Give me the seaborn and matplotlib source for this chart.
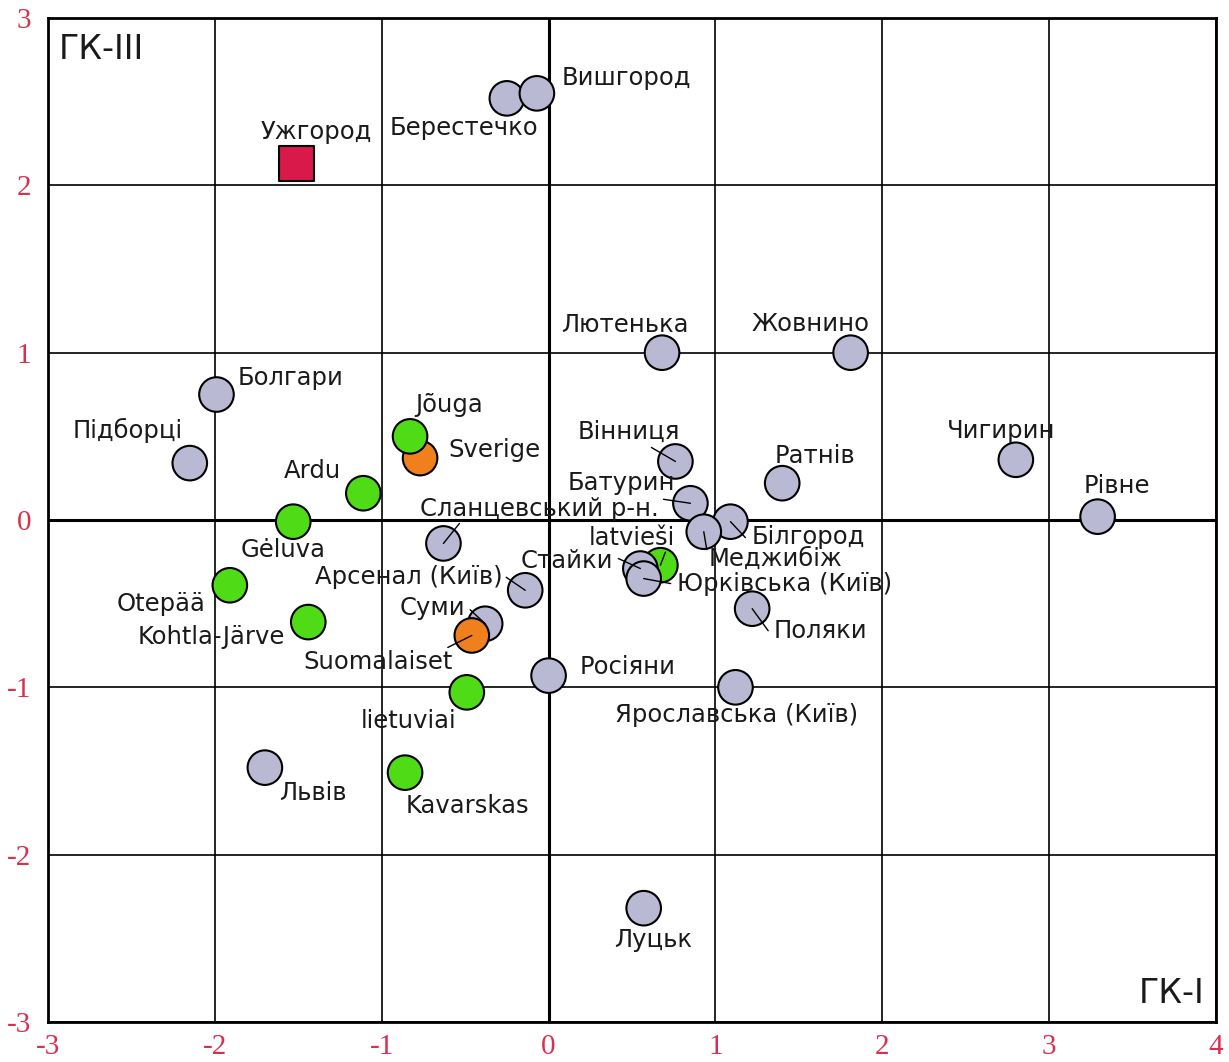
import pandas as pd
import matplotlib
matplotlib.use("Agg")
import matplotlib.pyplot as plt
import seaborn as sns


# Data, in drawing order
names = [
    "Ужгород", "Берестечко", "Вишгород", "Лютенька", "Жовнино", "Болгари",
    "Підборці", "Sverige", "Jõuga", "Ardu", "Gėluva", "Otepää",
    "Kohtla-Järve", "Сланцевський р-н.", "Арсенал (Київ)", "Суми",
    "Suomalaiset", "lietuviai", "Kavarskas", "Львів", "Росіяни", "Луцьк",
    "Вінниця", "Батурин", "Білгород", "Меджибіж", "latvieši", "Стайки",
    "Юрківська (Київ)", "Ратнів", "Поляки", "Ярославська (Київ)",
    "Чигирин", "Рівне",
]
gk1 = [
    -1.51, -0.25, -0.07, 0.68, 1.81, -1.99,
    -2.15, -0.77, -0.83, -1.11, -1.53, -1.91,
    -1.44, -0.63, -0.14, -0.38,
    -0.46, -0.49, -0.86, -1.70, 0.00, 0.57,
    0.76, 0.85, 1.09, 0.93, 0.67, 0.55,
    0.57, 1.40, 1.22, 1.12,
    2.80, 3.29,
]
gk3 = [
    2.13, 2.52, 2.55, 1.00, 1.00, 0.75,
    0.34, 0.37, 0.50, 0.16, -0.01, -0.39,
    -0.61, -0.14, -0.42, -0.62,
    -0.69, -1.03, -1.51, -1.48, -0.93, -2.32,
    0.35, 0.10, -0.01, -0.07, -0.27, -0.29,
    -0.35, 0.22, -0.53, -1.00,
    0.36, 0.02,
]
group = [
    "uzh", "ua", "ua", "ua", "ua", "ua",
    "ua", "scand", "balt", "balt", "balt", "balt",
    "balt", "ua", "ua", "ua",
    "scand", "balt", "balt", "ua", "ua", "ua",
    "ua", "ua", "ua", "ua", "balt", "ua",
    "ua", "ua", "ua", "ua",
    "ua", "ua",
]
x_ticks = [-3, -2, -1, 0, 1, 2, 3, 4]
y_ticks = [-3, -2, -1, 0, 1, 2, 3]

df = pd.DataFrame({"name": names, "gk1": gk1, "gk3": gk3, "group": group})
df["shape"] = ["square" if g == "uzh" else "circle" for g in group]

# label offsets (pixels, label centre relative to point)
label_offsets = {
    "Ужгород": (20, 32), "Берестечко": (-43, -30), "Вишгород": (89, 15),
    "Лютенька": (-37, 28), "Жовнино": (-40, 29), "Болгари": (74, 17),
    "Підборці": (-62, 33), "Jõuga": (39, 31), "Sverige": (74, 8),
    "Ardu": (-51, 22), "Gėluva": (-10, -28), "Otepää": (-69, -19),
    "Kohtla-Järve": (-97, -15), "Сланцевський р-н.": (96, 34),
    "Арсенал (Київ)": (-116, 13), "Суми": (-53, 16),
    "Suomalaiset": (-94, -27), "lietuviai": (-58, -29),
    "Kavarskas": (62, -33), "Львів": (48, -25), "Росіяни": (79, 9),
    "Луцьк": (9, -32), "Вінниця": (-47, 30), "Батурин": (-69, 20),
    "Меджибіж": (72, -27), "Білгород": (78, -15), "latvieši": (-29, 27),
    "Стайки": (-73, 8), "Юрківська (Київ)": (141, -5), "Ратнів": (33, 27),
    "Поляки": (68, -22), "Ярославська (Київ)": (1, -28),
    "Чигирин": (-15, 29), "Рівне": (19, 31),
}
# short leader lines: outer end (pixels from the point)
leader_ends = {
    "Вінниця": (-24, 14), "Батурин": (-27, 4), "Сланцевський р-н.": (16, 20),
    "Арсенал (Київ)": (-19, 13), "Суми": (-15, 14), "Suomalaiset": (-24, -12),
    "Стайки": (-22, 10), "latvieši": (5, 13), "Юрківська (Київ)": (27, -5),
    "Меджибіж": (3, -18), "Білгород": (15, -16), "Поляки": (16, -22),
}

palette = {"ua": "#b9b9d3", "balt": "#4fdc16", "scand": "#f0801e", "uzh": "#d8194a"}
tick_color = "#d9304f"

sns.set_style("white")
plt.rcParams["font.family"] = ["DejaVu Sans"]

fig = plt.figure(figsize=(12.29, 10.62), dpi=100)
ax = fig.add_axes([0.039, 0.0377, 0.9505, 0.9453])

ax.set_xlim(-3, 4)
ax.set_ylim(-3, 3)
ax.set_xticks(x_ticks)
ax.set_yticks(y_ticks)
ax.grid(True, color="black", lw=1.2)
ax.axhline(0, color="black", lw=2.2, zorder=1)
ax.axvline(0, color="black", lw=2.2, zorder=1)
ax.set_axisbelow(True)

sns.scatterplot(
    data=df, x="gk1", y="gk3",
    hue="group", palette=palette,
    style="shape", markers={"circle": "o", "square": "s"},
    s=620, edgecolor="black", linewidth=1.5,
    legend=False, ax=ax, zorder=3,
)

for n, xv, yv in zip(names, gk1, gk3):
    dx, dy = label_offsets[n]
    ax.annotate(
        n, (xv, yv), xytext=(dx, dy), textcoords="offset pixels",
        ha="center", va="center", fontsize=17.5, color="#1a1a1a", zorder=4,
    )
    if n in leader_ends:
        ex, ey = leader_ends[n]
        ax.annotate(
            "", (xv, yv), xytext=(ex, ey), textcoords="offset pixels",
            arrowprops=dict(arrowstyle="-", color="black", lw=1.0,
                            shrinkA=0, shrinkB=0),
            zorder=4,
        )

ax.text(0.009, 0.985, "ГК-III", transform=ax.transAxes, ha="left", va="top",
        fontsize=24, color="#1a1a1a")
ax.text(0.99, 0.012, "ГК-I", transform=ax.transAxes, ha="right", va="bottom",
        fontsize=24, color="#1a1a1a")

ax.set_xlabel("")
ax.set_ylabel("")
ax.set_xticklabels([str(v) for v in x_ticks])
ax.set_yticklabels([str(v) for v in y_ticks])
ax.tick_params(length=0, labelsize=21, labelcolor=tick_color)
ax.tick_params(axis="x", pad=9)
ax.tick_params(axis="y", pad=12)
for lab in ax.get_xticklabels() + ax.get_yticklabels():
    lab.set_family("Liberation Serif")

for sp in ax.spines.values():
    sp.set_color("black")
    sp.set_linewidth(2)

fig.savefig("out.png", dpi=100)
